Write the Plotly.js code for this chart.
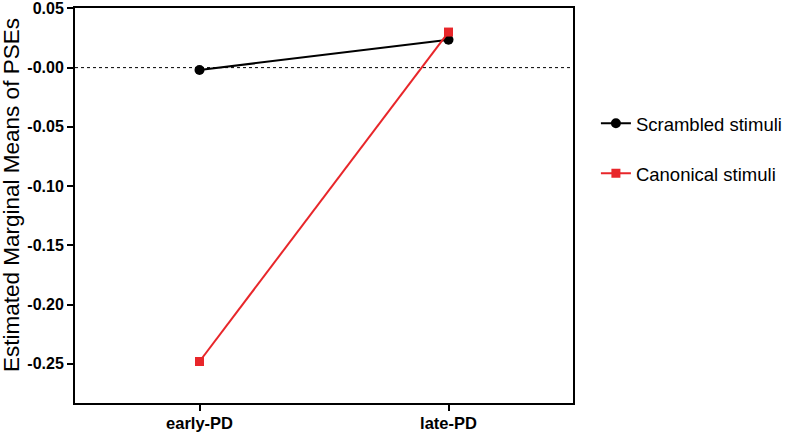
<!DOCTYPE html>
<html><head><meta charset="utf-8">
<script src="https://cdn.plot.ly/plotly-3.0.1.min.js"></script>
<style>body{margin:0;background:#fff}#chart{width:790px;height:432px}</style>
</head><body><div id="chart"></div>
<script>
var categories = ["early-PD", "late-PD"];
var scrambled = [-0.002, 0.0235];
var canonical = [-0.248, 0.030];
var yTickVals = [0.05, 0.00, -0.05, -0.10, -0.15, -0.20, -0.25];
var yTickText = ["0.05", "-0.00", "-0.05", "-0.10", "-0.15", "-0.20", "-0.25"];
var yTitle = "Estimated Marginal Means of PSEs";

var traces = [
  {x: [0, 1], y: scrambled, type: "scatter", mode: "lines+markers", name: "Scrambled stimuli",
   legendgroup: "a", line: {color: "#000", width: 2}, marker: {color: "#000", size: 10, symbol: "circle"}},
  {x: [0, 1], y: canonical, type: "scatter", mode: "lines+markers", name: "Canonical stimuli",
   legendgroup: "b", line: {color: "#e8262a", width: 2}, marker: {color: "#e8262a", size: 9, symbol: "square"}}
];
var layout = {
  width: 790, height: 432,
  margin: {l: 75, r: 217, t: 8, b: 29, autoexpand: false},
  paper_bgcolor: "#fff", plot_bgcolor: "#fff",
  font: {family: "Liberation Sans, Arial, sans-serif", color: "#000"},
  xaxis: {range: [-0.5, 1.5], tickvals: [0, 1], ticktext: categories, showgrid: false, zeroline: false,
    showline: true, linewidth: 2, linecolor: "#000", mirror: true, ticks: "outside", ticklen: 6, tickwidth: 2,
    ticklabelstandoff: -2,
    tickcolor: "#000", tickfont: {size: 16.5, family: "Liberation Sans, Arial, sans-serif", weight: "bold"}},
  yaxis: {range: [-0.283, 0.0503], tickvals: yTickVals, ticktext: yTickText, showgrid: false, zeroline: false,
    showline: true, linewidth: 2, linecolor: "#000", mirror: true, ticks: "outside", ticklen: 6, tickwidth: 2,
    ticklabeloverflow: "allow",
    tickcolor: "#000", tickfont: {size: 16, family: "Liberation Sans, Arial, sans-serif", weight: "bold"}},
  annotations: [{text: yTitle, textangle: -90, xref: "paper", yref: "paper",
    x: (11 - 75) / 498, y: (403 - 195) / 395, xanchor: "center", yanchor: "middle", showarrow: false,
    font: {size: 22.5, color: "#000"}}],
  shapes: [{type: "line", xref: "paper", x0: 0, x1: 1, yref: "y", y0: 0, y1: 0,
    line: {color: "#000", width: 1, dash: "dot"}, layer: "below"}],
  showlegend: true,
  legend: {x: 1.046, xanchor: "left", y: 0.755, yanchor: "top", font: {size: 18.5},
    traceorder: "grouped", tracegroupgap: 23, bgcolor: "rgba(0,0,0,0)"}
};
Plotly.newPlot("chart", traces, layout, {displayModeBar: false});
</script></body></html>
